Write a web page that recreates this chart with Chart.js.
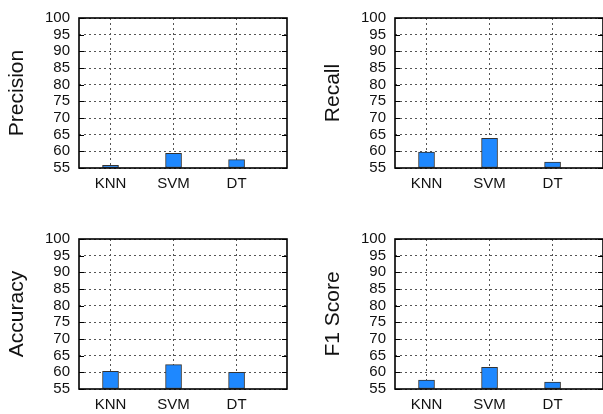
<!DOCTYPE html>
<html>
<head>
<meta charset="utf-8">
<script src="https://cdn.jsdelivr.net/npm/chart.js"></script>
<style>
    body { margin: 0; background: #fff; width: 603px; height: 414px; overflow: hidden; position: relative; }
    .panel { position: absolute; width: 290px; height: 207px; }
</style>
</head>
<body>
<div class="panel" style="left:0px;top:0px"><canvas id="precisionChart"></canvas></div>
<div class="panel" style="left:316px;top:0px"><canvas id="recallChart"></canvas></div>
<div class="panel" style="left:0px;top:221px"><canvas id="accuracyChart"></canvas></div>
<div class="panel" style="left:316px;top:221px"><canvas id="f1Chart"></canvas></div>
<script>
    const categories = ['KNN', 'SVM', 'DT'];
    const precision = [55.8, 59.4, 57.5];
    const recall = [59.8, 63.9, 56.8];
    const accuracy = [60.3, 62.3, 60.0];
    const f1Score = [57.7, 61.5, 57.1];
    const yTicks = [55, 60, 65, 70, 75, 80, 85, 90, 95, 100];

    const fontFamily = '"Liberation Sans", Arial, Helvetica, sans-serif';
    Chart.defaults.font.family = fontFamily;

    // box around the plot plus inward tick marks, like gnuplot
    const boxPlugin = {
        id: 'box',
        afterDraw(chart) {
            const a = chart.chartArea;
            const y = chart.scales.y;
            const ctx = chart.ctx;
            ctx.save();
            ctx.strokeStyle = '#000';
            ctx.lineWidth = 1;
            yTicks.forEach(function(t) {
                const py = Math.round(y.getPixelForValue(t)) + 0.5;
                ctx.beginPath();
                ctx.moveTo(a.left, py); ctx.lineTo(a.left + 5, py);
                ctx.moveTo(a.right, py); ctx.lineTo(a.right - 5, py);
                ctx.stroke();
            });
            ctx.lineWidth = 1.6;
            ctx.strokeRect(a.left, a.top, a.right - a.left, a.bottom - a.top);
            ctx.restore();
        }
    };

    function createChart(id, title, values) {
        const ctx = document.getElementById(id).getContext('2d');
        return new Chart(ctx, {
            type: 'bar',
            data: {
                datasets: [{
                    label: title,
                    data: values.map(function(v, i) { return { x: i, y: v }; }),
                    base: 55,
                    backgroundColor: 'rgb(30, 136, 255)',
                    borderColor: '#333',
                    borderWidth: 1,
                    borderSkipped: false,
                    barThickness: 16
                }]
            },
            options: {
                responsive: true,
                maintainAspectRatio: false,
                animation: false,
                layout: { padding: { top: 14, right: 3, bottom: 0, left: 0 } },
                plugins: {
                    legend: { display: false },
                    tooltip: { enabled: false }
                },
                scales: {
                    x: {
                        type: 'linear',
                        offset: false,
                        min: -0.5,
                        max: 2.8,
                        afterBuildTicks: function(scale) {
                            scale.ticks = categories.map(function(c, i) { return { value: i }; });
                        },
                        afterFit: function(scale) { scale.height = 39; },
                        grid: {
                            offset: false,
                            color: '#555',
                            lineWidth: 1,
                            drawTicks: false
                        },
                        border: { display: false, dash: [2, 3] },
                        ticks: {
                            autoSkip: false,
                            padding: 7,
                            color: '#111',
                            font: { size: 15 },
                            maxRotation: 0,
                            callback: function(v) { return categories[v] || ''; }
                        }
                    },
                    y: {
                        min: 55,
                        max: 100,
                        afterBuildTicks: function(scale) {
                            scale.ticks = yTicks.map(function(t) { return { value: t }; });
                        },
                        afterFit: function(scale) { scale.width = 79; },
                        grid: {
                            color: '#555',
                            lineWidth: 1,
                            drawTicks: false
                        },
                        border: { display: false, dash: [2, 3] },
                        ticks: {
                            autoSkip: false,
                            padding: 9,
                            color: '#111',
                            font: { size: 15 }
                        },
                        title: {
                            display: true,
                            text: title,
                            color: '#111',
                            padding: { top: 5, bottom: 0 },
                            font: { size: 21 }
                        }
                    }
                }
            },
            plugins: [boxPlugin]
        });
    }

    createChart('precisionChart', 'Precision', precision);
    createChart('recallChart', 'Recall', recall);
    createChart('accuracyChart', 'Accuracy', accuracy);
    createChart('f1Chart', 'F1 Score', f1Score);
</script>
</body>
</html>
